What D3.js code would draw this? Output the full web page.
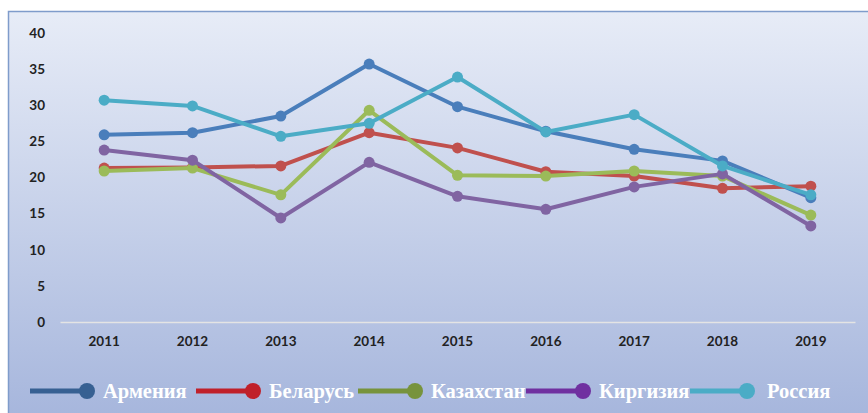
<!DOCTYPE html>
<html>
<head>
<meta charset="utf-8">
<script src="https://cdn.jsdelivr.net/npm/d3@7"></script>
<style>
  body { margin: 0; background: #fff; }
  svg { display: block; }
</style>
</head>
<body>
<div id="chart"></div>
<script>
// data
var years = ['2011', '2012', '2013', '2014', '2015', '2016', '2017', '2018', '2019'];
var names = ['Армения', 'Беларусь', 'Казахстан', 'Киргизия', 'Россия'];
var armenia    = [25.9, 26.2, 28.5, 35.7, 29.8, 26.4, 23.9, 22.3, 17.2];
var belarus    = [21.3, 21.4, 21.6, 26.2, 24.1, 20.8, 20.2, 18.5, 18.8];
var kazakhstan = [20.9, 21.3, 17.6, 29.3, 20.3, 20.2, 20.9, 20.2, 14.8];
var kirgizia   = [23.8, 22.4, 14.4, 22.1, 17.4, 15.6, 18.7, 20.5, 13.3];
var russia     = [30.7, 29.9, 25.7, 27.5, 33.9, 26.3, 28.7, 21.6, 17.6];
var yTicks = [0, 5, 10, 15, 20, 25, 30, 35, 40];

var lineColors   = ['#4A7EBB', '#C0504D', '#9BBB59', '#8064A2', '#4BACC6'];
var legendColors = ['#376092', '#C0202A', '#77933C', '#7030A0', '#4BACC6'];
var seriesValues = [armenia, belarus, kazakhstan, kirgizia, russia];

var svgWidth = 868, svgHeight = 413;

var svg = d3.select('#chart').append('svg')
  .attr('width', svgWidth)
  .attr('height', svgHeight);

// background gradient ***********
var defs = svg.append('defs');
var grad = defs.append('linearGradient')
  .attr('id', 'bg')
  .attr('x1', 0).attr('y1', 0).attr('x2', 0).attr('y2', 1);
grad.append('stop').attr('offset', '0%').attr('stop-color', '#E7ECF7');
grad.append('stop').attr('offset', '100%').attr('stop-color', '#A5B5DC');

svg.append('rect')
  .attr('x', 8.5).attr('y', 11.5)
  .attr('width', svgWidth).attr('height', svgHeight)
  .attr('fill', 'url(#bg)')
  .attr('stroke', '#7F9CCB')
  .attr('stroke-width', 1.5);

// scales ***********
var xScale = d3.scaleBand()
  .domain(years)
  .range([60, 855]);

var yScale = d3.scaleLinear()
  .domain([0, 40])
  .range([322, 33]);

// axes ***********
var bottomAxis = d3.axisBottom(xScale).tickSize(0).tickPadding(14);
var leftAxis = d3.axisLeft(yScale).tickValues(yTicks).tickSize(0).tickPadding(0);

var gx = svg.append('g')
  .attr('transform', 'translate(0,322)')
  .call(bottomAxis);
gx.select('.domain').attr('stroke', '#E4E4E4').attr('stroke-width', 1.5);
gx.selectAll('text')
  .attr('font-family', 'Lato, "Open Sans", sans-serif')
  .attr('font-weight', 'bold')
  .attr('font-size', 13.5)
  .attr('fill', '#222');

var gy = svg.append('g')
  .attr('transform', 'translate(45,0)')
  .call(leftAxis);
gy.select('.domain').remove();
gy.selectAll('text')
  .attr('font-family', 'Lato, "Open Sans", sans-serif')
  .attr('font-weight', 'bold')
  .attr('font-size', 13.5)
  .attr('fill', '#222');

// lines and markers ***********
var line = d3.line()
  .x(function(d, i) { return xScale(years[i]) + xScale.bandwidth() / 2; })
  .y(function(d) { return yScale(d); });

seriesValues.forEach(function(vals, s) {
  var g = svg.append('g');
  g.append('path')
    .datum(vals)
    .attr('d', line)
    .attr('fill', 'none')
    .attr('stroke', lineColors[s])
    .attr('stroke-width', 4)
    .attr('stroke-linejoin', 'round');
  g.selectAll('circle')
    .data(vals)
    .enter()
    .append('circle')
    .attr('cx', function(d, i) { return xScale(years[i]) + xScale.bandwidth() / 2; })
    .attr('cy', function(d) { return yScale(d); })
    .attr('r', 5.5)
    .attr('fill', lineColors[s]);
});

// legend ***********
var legendX = [30, 196, 358, 526, 690];
var legendY = 391;
var legend = svg.append('g');
names.forEach(function(name, i) {
  var lg = legend.append('g').attr('transform', 'translate(' + legendX[i] + ',' + legendY + ')');
  lg.append('line')
    .attr('x1', 0).attr('x2', 55)
    .attr('y1', 0).attr('y2', 0)
    .attr('stroke', legendColors[i])
    .attr('stroke-width', 5);
  lg.append('circle')
    .attr('cx', 57).attr('cy', 0).attr('r', 8)
    .attr('fill', legendColors[i]);
  lg.append('text')
    .attr('x', i == 4 ? 77 : 73)
    .attr('y', 6.5)
    .attr('font-family', '"Liberation Serif", serif')
    .attr('font-weight', 'bold')
    .attr('font-size', 20.5)
    .attr('fill', '#fff')
    .text(name);
});
</script>
</body>
</html>
